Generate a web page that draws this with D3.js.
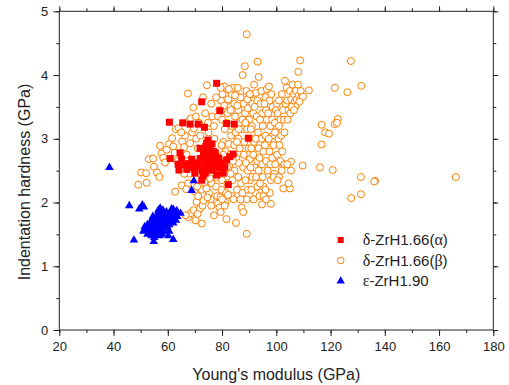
<!DOCTYPE html>
<html><head><meta charset="utf-8">
<script src="https://cdn.jsdelivr.net/npm/d3@7"></script>
<style>body{margin:0;background:#fff}svg{display:block}text{font-family:"Liberation Sans",Arial,sans-serif}</style>
</head><body><svg id="c" width="509" height="385"></svg>
<script>
const xTicks=[20,40,60,80,100,120,140,160,180];
const yTicks=[0,1,2,3,4,5];
const seriesNames=["δ-ZrH1.66(α)","δ-ZrH1.66(β)","ε-ZrH1.90"];
const betaPts=[
[49.1,2.28],[50.2,2.47],[52.0,2.46],[52.2,2.31],[53.0,2.68],[54.6,2.69],[54.9,2.56],[56.0,2.47],[56.9,2.40],[57.1,2.89],[57.7,2.77],[58.3,2.70],[59.0,2.63],[59.6,2.83],[60.5,2.92],[61.6,3.01],[62.0,2.88],[62.7,2.17],[63.0,3.15],[64.0,3.17],[63.5,2.65],
[65.1,2.27],[65.3,2.96],[66.0,2.87],[66.3,3.05],[67.0,2.75],[67.4,3.71],[67.8,3.28],[68.5,3.32],[69.4,3.49],[69.0,3.10],[69.6,3.16],[68.2,2.93],[68.0,2.45],[67.5,2.30],[66.8,2.21],[68.9,2.55],[67.5,1.77],[68.4,1.83],[69.5,1.88],[70.2,1.72],[70.6,2.01],[69.8,2.18],[66.6,1.80],
[70.5,3.00],[71.0,2.85],[71.5,3.25],[72.0,3.05],[72.5,1.67],[71.8,1.90],[72.8,1.95],[73.2,2.03],[71.2,2.10],[72.4,2.20],[73.5,2.32],[74.0,2.45],[73.0,2.60],[74.4,3.84],[74.8,3.25],[73.8,3.40],[75.0,3.10],[75.5,2.95],[75.2,2.15],[75.8,2.05],[76.0,1.95],[74.6,2.08],[74.2,2.22],[76.2,2.30],[75.5,2.38],[76.4,3.35],[76.0,3.55],
[77.0,3.20],[77.2,3.00],[77.5,2.75],[78.0,2.40],[77.8,2.25],[78.2,2.10],[78.5,1.98],[79.0,1.92],[79.4,2.08],[79.8,2.20],[80.0,2.35],[78.8,2.55],[79.5,2.62],[80.5,2.48],[78.5,3.35],[79.0,3.45],[79.6,3.60],[80.2,3.70],[80.8,3.52],[80.0,3.30],[81.0,3.15],[80.5,2.95],[81.2,2.80],[79.8,2.90],[81.6,1.74],[81.2,2.00],[81.5,2.15],[82.0,2.30],[81.8,3.78],[82.0,3.40],[82.3,3.62],[81.5,3.25],
[82.8,2.60],[83.0,2.75],[82.5,2.92],[83.3,3.05],[83.5,3.20],[83.0,3.50],[83.6,3.70],[84.0,3.80],[84.5,3.55],[84.8,3.35],[85.0,3.10],[84.5,2.90],[85.2,2.70],[84.6,2.50],[83.8,2.35],[83.5,2.10],[84.2,2.05],[85.1,1.68],[85.5,2.20],[86.0,2.40],[86.2,2.62],[86.5,2.85],[86.0,3.00],[86.6,3.25],[86.0,3.45],[86.8,3.65],[87.0,3.75],[87.6,4.00],[88.4,4.14],[87.2,1.92],[87.5,2.15],[87.0,2.30],[87.8,2.55],[88.0,2.75],[88.2,2.95],[87.6,3.15],[88.5,3.40],[88.0,3.55],[87.5,3.30],
[89.1,4.64],[89.0,3.75],[89.3,3.62],[89.5,3.48],[90.0,3.30],[89.2,3.15],[90.5,3.00],[89.8,2.85],[90.2,2.68],[89.5,2.50],[90.3,2.35],[89.6,2.20],[89.1,2.05],[89.1,1.51],[91.0,3.70],[91.2,3.55],[91.5,3.40],[91.0,3.20],[91.8,2.95],[91.5,2.75],[92.0,2.55],[91.2,2.40],[92.2,2.15],[91.6,2.05],[93.1,4.21],[93.5,3.97],[92.5,3.72],[93.0,3.60],[92.8,3.35],[93.2,3.10],[93.5,2.85],[93.0,2.65],[93.5,2.50],[93.0,2.25],[93.8,2.10],
[94.5,3.75],[94.2,3.55],[94.8,3.40],[95.0,3.20],[94.5,3.00],[95.2,2.80],[94.8,2.60],[95.0,2.40],[94.7,1.97],[95.3,2.10],[95.2,2.25],[96.0,3.65],[96.5,3.78],[96.2,3.45],[96.5,3.30],[96.0,3.05],[96.8,2.95],[96.2,2.65],[96.8,2.50],[97.3,3.82],[97.5,3.60],[97.0,3.40],[97.8,3.20],[97.5,2.80],[97.8,2.60],[98.0,2.35],[97.6,2.15],[98.6,3.50],[98.5,3.30],[98.8,3.05],[99.0,2.90],[98.5,2.70],[99.2,2.45],[99.0,2.40],[99.5,3.25],[99.8,3.45],
[100.2,3.55],[100.5,3.40],[100.0,3.15],[100.8,3.00],[100.3,2.75],[100.6,2.62],[101.0,2.40],[100.5,2.35],[101.5,3.30],[101.8,3.05],[101.2,2.90],[101.5,2.65],[102.0,2.50],[102.6,2.22],[102.5,3.45],[102.8,3.30],[103.2,3.91],[103.5,3.55],[103.0,2.60],[103.8,3.80],[104.0,3.60],[104.5,3.45],[104.2,3.30],[105.0,3.75],[105.5,3.62],[105.2,3.40],[105.0,2.22],[105.4,2.64],[105.4,2.50],[104.5,2.30],
[106.0,3.85],[106.5,3.70],[106.8,3.58],[107.2,3.75],[107.5,3.62],[108.0,3.85],[108.3,3.68],[108.8,4.23],[108.1,4.05],[109.0,3.75],[109.2,3.65],[109.8,3.66],[108.5,3.58],[107.0,3.50],[112.0,3.76],[109.7,2.58],
[116.7,3.22],[118.0,3.10],[119.4,3.08],[116.7,2.91],[121.6,3.23],[122.7,3.31],[122.4,3.25],[121.6,3.80],[126.2,3.73],[127.5,4.22],[131.3,3.83],[116.1,2.55],[120.8,2.51],[131.2,2.40],[136.4,2.34],[136.1,2.33],[131.2,2.13],[127.6,2.07],[166.2,2.40],
[80.8,3.82],[82.5,3.78],[83.2,3.45],[84.8,3.68],[85.6,3.52],[85.8,3.80],[86.2,3.15],[85.5,2.95],[84.0,2.65],[83.2,2.45],[82.2,2.12],[81.0,1.95],[80.0,2.05],[79.5,1.85],[80.4,2.75],[81.8,2.55],[88.6,3.25],[88.8,2.62],[88.6,2.35],[90.6,3.15],[90.8,2.85],[90.5,2.55],[90.8,2.20],[90.2,3.70],[91.8,3.85],[92.0,3.50],[92.4,3.00],[92.5,2.40],[94.0,3.30],[93.8,2.70],[94.0,2.30],[95.6,3.55],[95.8,2.90],[96.0,2.20],[97.2,3.00],[98.2,3.70],[99.5,3.10],[99.6,2.60],[101.0,3.60],[101.0,3.20],[102.0,3.70],[102.2,2.80],[103.0,3.10],[104.0,2.60],[105.6,3.50],[106.5,3.45],[98.0,1.98],[96.2,2.05],[86.8,2.05],[87.8,1.85],[77.0,1.80],[76.5,2.55],[70.8,2.25],[71.0,1.82],[66.0,2.45],[62.5,2.78],[65.0,3.10],[70.3,3.35],[73.0,3.65],[77.8,3.65],[79.5,3.80]
];
const alphaPts=[
[78.0,3.87],[72.5,3.58],[79.2,3.44],[60.6,3.26],[65.5,3.25],[68.2,3.23],[71.2,3.23],[73.5,3.18],[81.7,3.24],[84.5,3.23],[89.7,3.01],
[60.9,2.69],[64.5,2.78],[65.1,2.68],[64.1,2.51],[66.3,2.59],[67.6,2.61],[68.8,2.68],[70.6,2.56],[70.0,2.46],[71.9,2.85],[74.3,2.93],[75.5,2.88],[76.8,2.80],[73.1,2.75],[75.0,2.69],[76.8,2.67],[72.4,2.61],[74.3,2.56],[78.0,2.61],[76.1,2.51],[79.2,2.54],[81.0,2.56],[82.9,2.72],[84.1,2.76],[81.7,2.67],[80.4,2.46],[72.5,2.35],[70.0,2.51],[73.8,2.46],[78.0,2.43],[82.3,2.28],[77.5,2.78],[73.8,2.78],[75.3,2.78],[76.8,2.51],[71.9,2.69],
[74.0,2.88],[75.0,2.82],[76.0,2.75],[74.8,2.62],[75.8,2.58],[73.5,2.68],[77.5,2.62],[76.3,2.92],[74.8,2.98],[72.8,2.50],[78.8,2.70],[79.8,2.62],[73.0,2.42],[68.0,2.55],[69.2,2.62],[67.0,2.52],[63.8,2.60],[71.0,2.62]
];
const epsPts=[
[38.5,2.55],[45.8,1.95],[49.5,1.90],[50.6,1.96],[51.2,1.93],[47.5,1.41],[54.8,1.39],[62.0,1.42],[60.2,1.48],[69.6,2.34],[68.8,2.19],[62.0,1.89],[63.3,1.87],[64.7,1.83],
[51.0,1.55],[51.5,1.62],[52.0,1.58],[52.5,1.65],[53.0,1.60],[53.5,1.68],[53.0,1.52],[54.0,1.55],[54.0,1.72],[54.5,1.62],[55.0,1.58],[55.0,1.75],[55.5,1.68],[55.5,1.50],[56.0,1.62],[56.0,1.80],[56.5,1.72],[56.5,1.55],[57.0,1.85],[57.0,1.65],[57.5,1.78],[57.5,1.58],[58.0,1.70],[58.0,1.62],[58.5,1.82],[58.5,1.55],[59.0,1.75],[59.0,1.65],[59.5,1.60],[60.0,1.72],[60.0,1.80],[60.5,1.65],[61.0,1.70],[61.5,1.75],[62.0,1.68],[62.5,1.78],[63.0,1.72],[57.0,1.48],[58.0,1.50],[55.0,1.45],[60.5,1.55],[54.0,1.48],[56.5,1.88],[61.0,1.82],[62.5,1.85],[57.2,1.91],[61.4,1.90],
[52.5,1.50],[53.8,1.62],[55.2,1.66],[56.2,1.70],[57.8,1.75],[58.8,1.68],[59.8,1.62],[60.8,1.75],[56.8,1.60],[55.8,1.55],[58.2,1.88],[59.5,1.85],[54.5,1.78],[62.0,1.75],[63.5,1.78]
];

const L=59.3,R=493.3,T=11.3,B=330;
const svg=d3.select("#c");
const x=d3.scaleLinear().domain([20,180]).range([L,R]);
const y=d3.scaleLinear().domain([0,5]).range([B,T]);
const minorX=d3.range(20,181,10), minorY=d3.range(0,5.01,0.5);

function styleAxis(g){g.selectAll("path").remove();g.selectAll("line").attr("stroke","#222");g.selectAll("text").attr("fill","#222").style("font-size","13px");}
svg.append("g").attr("transform",`translate(0,${B})`).call(d3.axisBottom(x).tickValues(minorX).tickSize(3).tickFormat("")).call(styleAxis);
svg.append("g").attr("transform",`translate(0,${T})`).call(d3.axisTop(x).tickValues(minorX).tickSize(3).tickFormat("")).call(styleAxis);
svg.append("g").attr("transform",`translate(${L},0)`).call(d3.axisLeft(y).tickValues(minorY).tickSize(3).tickFormat("")).call(styleAxis);
svg.append("g").attr("transform",`translate(${R},0)`).call(d3.axisRight(y).tickValues(minorY).tickSize(3).tickFormat("")).call(styleAxis);
svg.append("g").attr("transform",`translate(0,${B})`).call(d3.axisBottom(x).tickValues(xTicks).tickSize(6).tickPadding(6).tickFormat(d3.format("d"))).call(styleAxis);
svg.append("g").attr("transform",`translate(0,${T})`).call(d3.axisTop(x).tickValues(xTicks).tickSize(5).tickFormat("")).call(styleAxis);
svg.append("g").attr("transform",`translate(${L},0)`).call(d3.axisLeft(y).tickValues(yTicks).tickSize(6).tickPadding(5).tickFormat(d3.format("d"))).call(styleAxis);
svg.append("g").attr("transform",`translate(${R},0)`).call(d3.axisRight(y).tickValues(yTicks).tickSize(5).tickFormat("")).call(styleAxis);
svg.append("rect").attr("x",L).attr("y",T).attr("width",R-L).attr("height",B-T).attr("fill","none").attr("stroke","#222").attr("stroke-width",1);

const plot=svg.append("g");
plot.selectAll("circle.b").data(betaPts).enter().append("circle").attr("cx",d=>x(d[0])).attr("cy",d=>y(d[1])).attr("r",3.5)
 .attr("fill","#fff").attr("stroke","#FF8000").attr("stroke-width",1);
const sq=d3.symbol().type(d3.symbolSquare).size(49);
plot.selectAll("path.a").data(alphaPts).enter().append("path").attr("d",sq).attr("transform",d=>`translate(${x(d[0])},${y(d[1])})`).attr("fill","#FF0000");
const tri=d3.symbol().type(d3.symbolTriangle).size(32);
plot.selectAll("path.e").data(epsPts).enter().append("path").attr("d",tri).attr("transform",d=>`translate(${x(d[0])},${y(d[1])})`).attr("fill","#0000FF");

svg.append("text").attr("x",(L+R)/2).attr("y",380).attr("text-anchor","middle").style("font-size","16px").attr("fill","#222").text("Young's modulus (GPa)");
svg.append("text").attr("transform","translate(30,182) rotate(-90)").attr("text-anchor","middle").style("font-size","16px").attr("fill","#222").text("Indentation hardness (GPa)");

const lx=340.7, ly=[240,260.5,281], tx=362.7;
const lg=svg.append("g");
lg.append("path").attr("d",d3.symbol().type(d3.symbolSquare).size(36)).attr("transform",`translate(${lx},${ly[0]})`).attr("fill","#FF0000");
lg.append("circle").attr("cx",lx).attr("cy",ly[1]).attr("r",3.3).attr("fill","#fff").attr("stroke","#FF8000");
lg.append("path").attr("d",d3.symbol().type(d3.symbolTriangle).size(30)).attr("transform",`translate(${lx},${ly[2]})`).attr("fill","#0000FF");
seriesNames.forEach((n,i)=>{
  const t=lg.append("text").attr("x",tx).attr("y",ly[i]).attr("dy","0.35em").style("font-size","15px").attr("fill","#222");
  const parts=n.split(/([αβδε])/).filter(s=>s.length);
  parts.forEach(p=>{const sp=t.append("tspan").text(p); if(/[αβδε]/.test(p)) sp.style("font-family","'Liberation Serif','Times New Roman',serif").style("font-size","16px");});
});
</script></body></html>
